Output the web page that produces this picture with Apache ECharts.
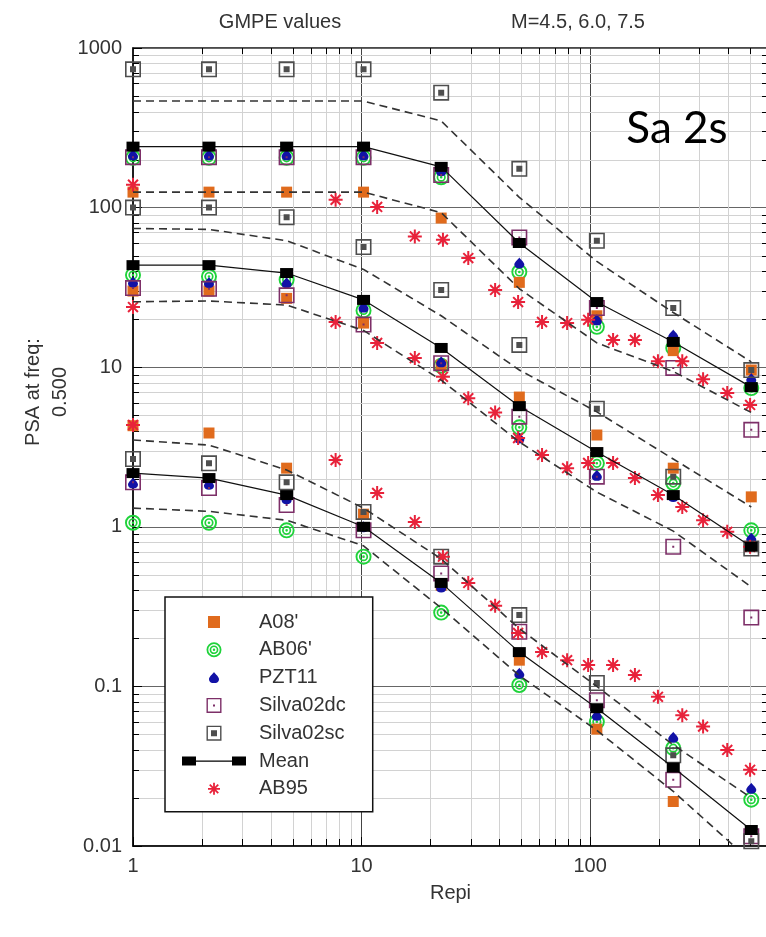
<!DOCTYPE html>
<html>
<head>
<meta charset="utf-8">
<script src="https://cdn.jsdelivr.net/npm/echarts@6/dist/echarts.min.js"></script>
<style>
  html, body { margin: 0; padding: 0; background: #fff; }
  #chart { width: 766px; height: 937px; }
</style>
</head>
<body>
<div id="chart"></div>
<script>
// Epicentral distances (km) at which every GMPE is evaluated
const distances = [1, 2.15, 4.7, 10.2, 22.3, 49, 107, 231, 507];
// Distances of the AB95 curve samples
const ab95Distances = [1, 7.7, 11.7, 17.1, 22.7, 29.3, 38.4, 48.4, 61.6, 79.3, 98, 126, 157, 198, 253, 312, 398, 501];

// M = 4.5
const a08M45      = [4.3, 3.87, 2.33, 1.2, 0.43, 0.146, 0.054, 0.019, 0.006];
const ab06M45     = [1.06, 1.06, 0.95, 0.65, 0.29, 0.102, 0.06, 0.041, 0.0195];
const pzt11M45    = [1.88, 1.85, 1.5, 1.0, 0.42, 0.121, 0.066, 0.048, 0.023];
const silvaDcM45  = [1.9, 1.75, 1.37, 0.95, 0.51, 0.22, 0.082, 0.026, 0.0115];
const silvaScM45  = [2.66, 2.5, 1.9, 1.24, 0.65, 0.28, 0.105, 0.037, 0.0107];
const meanM45     = [2.17, 2.02, 1.58, 1.0, 0.445, 0.164, 0.073, 0.031, 0.0126];
const upperM45    = [3.5, 3.25, 2.27, 1.31, 0.63, 0.23, 0.1, 0.043, 0.02];
const lowerM45    = [1.31, 1.25, 1.1, 0.76, 0.31, 0.117, 0.053, 0.022, 0.008];

// M = 6.0
const a08M60      = [30, 30, 27, 18.9, 10.3, 6.5, 3.76, 2.33, 1.54];
const ab06M60     = [37.8, 37, 35.3, 22.7, 10.2, 4.2, 2.5, 1.88, 0.95];
const pzt11M60    = [34.2, 34, 33.8, 23.8, 10.8, 3.6, 2.1, 1.55, 0.85];
const silvaDcM60  = [31.3, 31, 28.2, 18.5, 10.6, 4.9, 2.06, 0.75, 0.27];
const silvaScM60  = [100, 100, 87, 56.6, 30.5, 13.8, 5.5, 2.06, 0.73];
const meanM60     = [43.6, 43.6, 38.9, 26.4, 13.2, 5.7, 2.94, 1.58, 0.75];
const upperM60    = [74, 73, 62, 41, 21, 9.6, 5.25, 2.66, 1.33];
const lowerM60    = [25.7, 26, 24.5, 17, 8.3, 3.4, 1.65, 0.94, 0.42];

// M = 7.5
const a08M75      = [125, 125, 125, 125, 86, 34, 21, 12.7, 9.6];
const ab06M75     = [205, 205, 205, 205, 155, 39.5, 17.9, 13.2, 7.4];
const pzt11M75    = [214, 214, 214, 214, 170, 45, 19.8, 15.9, 8.5];
const silvaDcM75  = [207, 207, 207, 207, 160, 65, 23.5, 9.9, 4.05];
const silvaScM75  = [735, 735, 735, 735, 525, 175, 62, 23.5, 9.6];
const meanM75     = [241, 241, 241, 241, 180, 60, 25.6, 14.4, 7.5];
const upperM75    = [465, 465, 465, 465, 349, 116, 46, 22, 10.8];
const lowerM75    = [125, 125, 125, 125, 93, 31, 14.2, 9.4, 5.2];

// AB95 for the three magnitudes
const ab95M45 = [4.35, 2.62, 1.63, 1.07, 0.65, 0.445, 0.32, 0.216, 0.164, 0.146, 0.136, 0.136, 0.118, 0.086, 0.066, 0.056, 0.040, 0.030];
const ab95M60 = [23.8, 19.2, 14.2, 11.4, 8.7, 6.4, 5.2, 3.6, 2.82, 2.33, 2.51, 2.51, 2.02, 1.58, 1.33, 1.10, 0.93, 0.75];
const ab95M75 = [139, 112, 101, 66, 63, 48.3, 30.5, 25.6, 19.2, 18.9, 19.8, 14.8, 14.8, 10.9, 10.9, 8.4, 6.9, 5.8];

// Axis ranges and labels
const xRange = [1, 600];
const yRange = [0.01, 1000];
const yAxisTitle = 'PSA at freq:\n0.500';
const xAxisTitle = 'Repi';
const headerLeft = 'GMPE values';
const headerRight = 'M=4.5, 6.0, 7.5';
const periodNote = 'Sa 2s';

// ---------- helpers ----------
const FONT = '"Liberation Sans", Arial, sans-serif';
const TEXT = '#333';

function pairs(xs, ys) { return ys.map((y, i) => [xs[i], y]); }
function allMags(a, b, c) { return pairs(distances, a).concat(pairs(distances, b), pairs(distances, c)); }
function plainNumber(v) { return String(parseFloat((+v).toPrecision(6))); }

const f = n => (+n).toFixed(3);
function rectCW(x, y, w, h) { return `M${f(x)},${f(y)}H${f(x + w)}V${f(y + h)}H${f(x)}Z`; }
function rectCCW(x, y, w, h) { return `M${f(x)},${f(y)}V${f(y + h)}H${f(x + w)}V${f(y)}Z`; }
function circle(cx, cy, r, cw) {
  const s = cw ? 1 : 0;
  return `M${f(cx)},${f(cy - r)}A${f(r)},${f(r)} 0 1,${s} ${f(cx)},${f(cy + r)}A${f(r)},${f(r)} 0 1,${s} ${f(cx)},${f(cy - r)}Z`;
}
function ringsPath(cx, cy, r) {
  const k = r / 8;
  return circle(cx, cy, 8 * k, 1) + circle(cx, cy, 6.1 * k, 0) +
         circle(cx, cy, 4.6 * k, 1) + circle(cx, cy, 2.9 * k, 0) +
         circle(cx, cy, 1.3 * k, 1);
}
function boxPath(o, s, t, inner) {
  const io = o + (s - inner) / 2;
  return rectCW(o, o, s, s) + rectCCW(o + t, o + t, s - 2 * t, s - 2 * t) + rectCW(io, io, inner, inner);
}
function spadePath(ox, oy, k) {
  const p = (x, y) => `${f(ox + x * k)},${f(oy + y * k)}`;
  return `M${p(5, 0)}C${p(6.6, 2.6)} ${p(10, 4.6)} ${p(10, 7.3)}C${p(10, 9.6)} ${p(8, 11)} ${p(5, 11)}` +
         `C${p(2, 11)} ${p(0, 9.6)} ${p(0, 7.3)}C${p(0, 4.6)} ${p(3.4, 2.6)} ${p(5, 0)}Z`;
}
function starPath(c, L, w) {
  let d = '';
  [0, 45, 90, 135].forEach(a => {
    const t = a * Math.PI / 180, dx = Math.cos(t), dy = Math.sin(t), nx = -dy, ny = dx;
    const pts = [[L * dx + w * nx, L * dy + w * ny], [L * dx - w * nx, L * dy - w * ny],
                 [-L * dx - w * nx, -L * dy - w * ny], [-L * dx + w * nx, -L * dy + w * ny]];
    d += 'M' + pts.map(q => f(c + q[0]) + ',' + f(c + q[1])).join('L') + 'Z';
  });
  return d;
}
// invisible corner points that fix a legend icon's box to 20x20
const frame20 = 'M0,0L0.01,0Z M20,20L19.99,20Z';

const COLORS = {
  a08: '#e06b1d', ab06: '#1fd33a', pzt: '#1212a6', dc: '#7d2f68', sc: '#4e4e4e',
  mean: '#000000', ab95: '#e8223a', dash: '#333333'
};

const symbols = {
  a08: 'rect',
  ab06: 'path://' + ringsPath(8, 8, 8),
  pzt: 'path://' + spadePath(0, 0, 1),
  dc: 'path://' + boxPath(0, 16, 1.6, 2),
  sc: 'path://' + boxPath(0, 16, 1.6, 6),
  ab95: 'path://' + starPath(7, 7, 1.0)
};

const legendIcons = {
  a08: 'path://' + frame20 + rectCW(4, 4, 12, 12),
  ab06: 'path://' + frame20 + ringsPath(10, 10, 7.5),
  pzt: 'path://' + frame20 + spadePath(5, 4.5, 1),
  dc: 'path://' + frame20 + boxPath(2.5, 15, 1.4, 2),
  sc: 'path://' + frame20 + boxPath(2.5, 15, 1.4, 6),
  mean: 'path://M0,0L0.01,0Z M64,20L63.99,20Z' + rectCW(0, 5.5, 14, 9) + rectCW(14, 9.4, 36, 1.3) + rectCW(50, 5.5, 14, 9),
  ab95: 'path://' + frame20 + starPath(10, 6, 0.9)
};

// minor (2..9) grid positions of each decade
const xMinor = [];
for (let e = 0; e < 3; e++) for (let k = 2; k <= 9; k++) { const v = k * Math.pow(10, e); if (v < xRange[1]) xMinor.push(v); }
const yMinor = [];
for (let e = -2; e < 3; e++) for (let k = 2; k <= 9; k++) yMinor.push(+(k * Math.pow(10, e)).toPrecision(2));

const MINOR = '#d2d2d2';
function renderMinorX(params, api) {
  const cs = params.coordSys;
  const x = Math.round(api.coord([api.value(0), 1])[0]) + 0.5;
  const y0 = cs.y, y1 = cs.y + cs.height;
  return { type: 'group', children: [
    { type: 'line', shape: { x1: x, y1: y0, x2: x, y2: y1 }, style: { stroke: MINOR, lineWidth: 1 } },
    { type: 'line', shape: { x1: x, y1: y0, x2: x, y2: y0 + 6 }, style: { stroke: '#000', lineWidth: 1 } },
    { type: 'line', shape: { x1: x, y1: y1, x2: x, y2: y1 - 7 }, style: { stroke: '#000', lineWidth: 1 } }
  ]};
}
function renderMinorY(params, api) {
  const cs = params.coordSys;
  const y = Math.round(api.coord([1, api.value(1)])[1]) + 0.5;
  const x0 = cs.x, x1 = cs.x + cs.width;
  return { type: 'group', children: [
    { type: 'line', shape: { x1: x0, y1: y, x2: x1, y2: y }, style: { stroke: MINOR, lineWidth: 1 } },
    { type: 'line', shape: { x1: x0, y1: y, x2: x0 + 6, y2: y }, style: { stroke: '#000', lineWidth: 1 } },
    { type: 'line', shape: { x1: x1, y1: y, x2: x1 - 6, y2: y }, style: { stroke: '#000', lineWidth: 1 } }
  ]};
}

function scatter(name, data, symbol, size, color) {
  return { name, type: 'scatter', data, symbol, symbolSize: size, clip: true,
           itemStyle: { color, borderWidth: 0, opacity: 1 }, emphasis: { disabled: true } };
}
function dashed(data) {
  return { name: 'Mean ± σ', type: 'line', data: pairs(distances, data), symbol: 'none', clip: true,
           lineStyle: { color: COLORS.dash, width: 1.6, type: [8, 5] }, emphasis: { disabled: true } };
}
function meanLine(data) {
  return { name: 'Mean', type: 'line', data: pairs(distances, data), symbol: 'rect', symbolSize: [13, 10],
           clip: true, showAllSymbol: true,
           itemStyle: { color: COLORS.mean, borderWidth: 0 },
           lineStyle: { color: '#111', width: 1.2 }, emphasis: { disabled: true } };
}

const chart = echarts.init(document.getElementById('chart'), null, { renderer: 'canvas' });

const option = {
  animation: false,
  backgroundColor: '#fff',
  textStyle: { fontFamily: FONT },
  grid: {
    left: 133, top: 48, width: 635, height: 798,
    containLabel: false, outerBoundsMode: 'none',
    show: true, borderColor: '#111', borderWidth: 1.5, backgroundColor: 'transparent'
  },
  xAxis: {
    type: 'log', logBase: 10, min: xRange[0], max: xRange[1],
    name: xAxisTitle, nameLocation: 'middle', nameGap: 37,
    nameTextStyle: { color: TEXT, fontSize: 20, fontFamily: FONT },
    axisLine: { show: true, lineStyle: { color: '#111', width: 1.5 } },
    axisTick: { show: true, inside: true, length: 9, lineStyle: { color: '#000' } },
    axisLabel: { color: TEXT, fontSize: 20, fontFamily: FONT, margin: 10, showMaxLabel: false, formatter: plainNumber },
    splitLine: { show: true, lineStyle: { color: '#444', width: 1 } },
    minorTick: { show: false }, minorSplitLine: { show: false }
  },
  yAxis: {
    type: 'log', logBase: 10, min: yRange[0], max: yRange[1],
    axisLine: { show: true, lineStyle: { color: '#111', width: 1.5 } },
    axisTick: { show: true, inside: true, length: 9, lineStyle: { color: '#000' } },
    axisLabel: { color: TEXT, fontSize: 20, fontFamily: FONT, margin: 11, formatter: plainNumber },
    splitLine: { show: true, lineStyle: { color: '#666', width: 1 } },
    minorTick: { show: false }, minorSplitLine: { show: false }
  },
  legend: {
    left: 165, top: 597, orient: 'vertical',
    padding: [15, 27, 13, 17],
    itemWidth: 66, itemHeight: 20, itemGap: 7.8,
    backgroundColor: '#fff', borderColor: '#111', borderWidth: 1.5, borderRadius: 0,
    selectedMode: false,
    textStyle: { color: TEXT, fontSize: 20, fontFamily: FONT, padding: [0, 0, 0, 7] },
    data: [
      { name: "A08'", icon: legendIcons.a08 },
      { name: "AB06'", icon: legendIcons.ab06 },
      { name: 'PZT11', icon: legendIcons.pzt },
      { name: 'Silva02dc', icon: legendIcons.dc },
      { name: 'Silva02sc', icon: legendIcons.sc },
      { name: 'Mean', icon: legendIcons.mean },
      { name: 'AB95', icon: legendIcons.ab95 }
    ]
  },
  graphic: [
    { type: 'text', x: 280, y: 22, style: { text: headerLeft, fill: TEXT, font: '20px ' + FONT, align: 'center', verticalAlign: 'middle' } },
    { type: 'text', x: 578, y: 22, style: { text: headerRight, fill: TEXT, font: '20px ' + FONT, align: 'center', verticalAlign: 'middle' } },
    { type: 'text', x: 47, y: 392, rotation: Math.PI / 2,
      style: { text: yAxisTitle, fill: TEXT, font: '20px ' + FONT, align: 'center', verticalAlign: 'middle', lineHeight: 27 } },
    { type: 'text', x: 677, y: 129, z: 10, style: { text: periodNote, fill: '#000', font: '44px Lato, "Open Sans", sans-serif', align: 'center', verticalAlign: 'middle' } }
  ],
  series: [
    { type: 'custom', renderItem: renderMinorX, data: xMinor.map(v => [v, 1]), silent: true, z: 1, encode: { x: 0, y: 1 } },
    { type: 'custom', renderItem: renderMinorY, data: yMinor.map(v => [1, v]), silent: true, z: 1, encode: { x: 0, y: 1 } },
    dashed(upperM45), dashed(lowerM45),
    dashed(upperM60), dashed(lowerM60),
    dashed(upperM75), dashed(lowerM75),
    scatter("AB06'", allMags(ab06M45, ab06M60, ab06M75), symbols.ab06, 16, COLORS.ab06),
    scatter("A08'", allMags(a08M45, a08M60, a08M75), symbols.a08, 11, COLORS.a08),
    scatter('PZT11', allMags(pzt11M45, pzt11M60, pzt11M75), symbols.pzt, [10, 11], COLORS.pzt),
    meanLine(meanM45), meanLine(meanM60), meanLine(meanM75),
    scatter('Silva02dc', allMags(silvaDcM45, silvaDcM60, silvaDcM75), symbols.dc, 16, COLORS.dc),
    scatter('Silva02sc', allMags(silvaScM45, silvaScM60, silvaScM75), symbols.sc, 16, COLORS.sc),
    scatter('AB95', pairs(ab95Distances, ab95M45).concat(pairs(ab95Distances, ab95M60), pairs(ab95Distances, ab95M75)),
            symbols.ab95, 14, COLORS.ab95)
  ]
};

chart.setOption(option);
</script>
</body>
</html>
